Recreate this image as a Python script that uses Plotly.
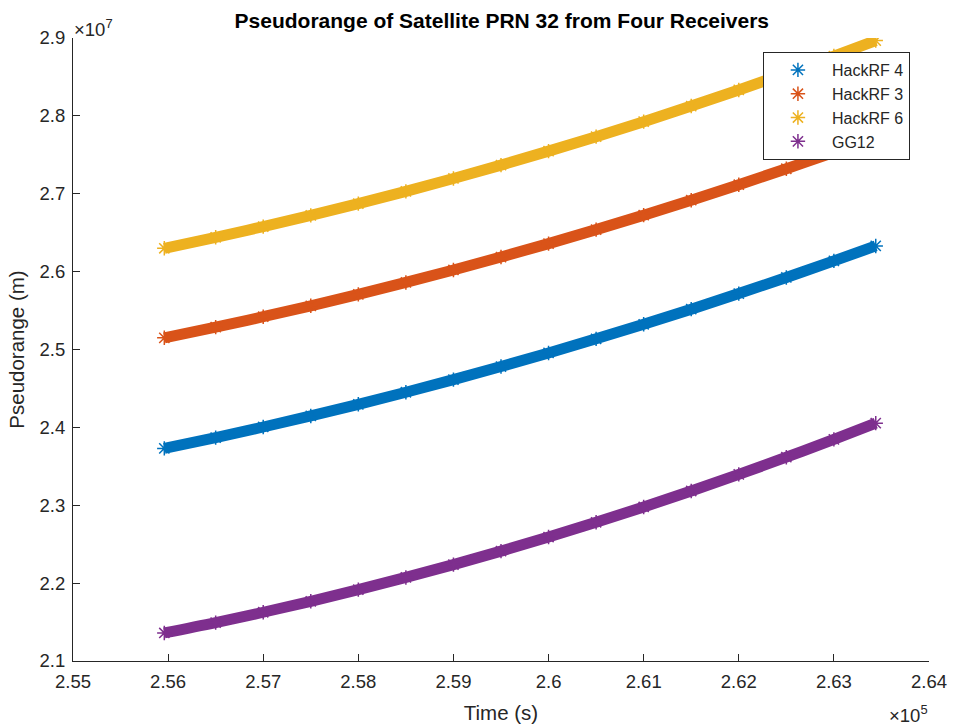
import plotly.graph_objects as go

# Time (s)
time_s = [255960, 256500, 257000, 257500, 258000, 258500, 259000, 259500,
          260000, 260500, 261000, 261500, 262000, 262500, 263000, 263440]

# Pseudorange (x1e7 m)
hackrf4 = [2.373, 2.3869, 2.4005, 2.4147, 2.4296, 2.4451, 2.4613, 2.4781,
           2.4956, 2.5137, 2.5324, 2.5518, 2.5718, 2.5925, 2.6138, 2.633]
hackrf3 = [2.515, 2.5287, 2.5421, 2.5561, 2.5708, 2.5861, 2.6021, 2.6187,
           2.6360, 2.6539, 2.6725, 2.6917, 2.7116, 2.7321, 2.7533, 2.7724]
hackrf6 = [2.630, 2.6441, 2.6578, 2.6722, 2.6873, 2.7031, 2.7196, 2.7368,
           2.7547, 2.7733, 2.7926, 2.8126, 2.8333, 2.8547, 2.8768, 2.8967]
gg12 = [2.136, 2.1493, 2.1626, 2.1767, 2.1916, 2.2073, 2.2238, 2.2411,
        2.2592, 2.2781, 2.2978, 2.3183, 2.3396, 2.3617, 2.3846, 2.4054]

series_names = ["HackRF 4", "HackRF 3", "HackRF 6", "GG12"]
series_vals = [hackrf4, hackrf3, hackrf6, gg12]
colors = ["#0072BD", "#D95319", "#EDB120", "#7E2F8E"]

x_tick_vals = [255000, 256000, 257000, 258000, 259000, 260000, 261000, 262000, 263000, 264000]
x_tick_text = ["2.55", "2.56", "2.57", "2.58", "2.59", "2.6", "2.61", "2.62", "2.63", "2.64"]
y_tick_vals = [2.1e7, 2.2e7, 2.3e7, 2.4e7, 2.5e7, 2.6e7, 2.7e7, 2.8e7, 2.9e7]
y_tick_text = ["2.1", "2.2", "2.3", "2.4", "2.5", "2.6", "2.7", "2.8", "2.9"]

FONT = "Liberation Sans, Arial, Helvetica, sans-serif"
TXT = "#262626"

fig = go.Figure()
for i, (name, vals, col) in enumerate(zip(series_names, series_vals, colors)):
    y = [v * 1e7 for v in vals]
    fig.add_trace(go.Scatter(
        x=time_s, y=y, mode="lines", line=dict(color=col, width=11, shape="spline"),
        showlegend=False, hoverinfo="skip", legendgroup=name))
    fig.add_trace(go.Scatter(
        x=time_s, y=y, mode="markers", name=name, legendgroup=name,
        marker=dict(symbol="asterisk-open", size=12, color=col,
                    line=dict(color=col, width=1.5))))

fig.update_layout(
    width=954, height=728,
    margin=dict(l=73, r=25, t=38, b=67),
    paper_bgcolor="white", plot_bgcolor="white",
    font=dict(family=FONT, color=TXT, size=18.5),
    title=dict(text="<b>Pseudorange of Satellite PRN 32 from Four Receivers</b>",
               x=0.526, xref="container", xanchor="center", y=0.9718, yanchor="middle",
               font=dict(size=21, color="black", family=FONT)),
    xaxis=dict(range=[255000, 264000], tickvals=x_tick_vals, ticktext=x_tick_text,
               ticks="inside", ticklen=7, tickcolor=TXT, showline=True, linecolor=TXT,
               linewidth=1, mirror=False, showgrid=False, zeroline=False, automargin=False,
               tickfont=dict(size=18.5, color=TXT), ticklabelstandoff=4,
               title=dict(text="Time (s)", font=dict(size=20.5, color=TXT), standoff=14)),
    yaxis=dict(range=[2.1e7, 2.9e7], tickvals=y_tick_vals, ticktext=y_tick_text,
               ticks="inside", ticklen=7, tickcolor=TXT, showline=True, linecolor=TXT,
               linewidth=1, mirror=False, showgrid=False, zeroline=False, automargin=False,
               tickfont=dict(size=18.5, color=TXT), ticklabelstandoff=3,
               title=dict(text="Pseudorange (m)", font=dict(size=20.5, color=TXT), standoff=9)),
    legend=dict(x=0.806, y=0.9775, xanchor="left", yanchor="top",
                bgcolor="white", bordercolor="#262626", borderwidth=1,
                font=dict(size=16, color=TXT, family=FONT),
                traceorder="grouped", tracegroupgap=0, itemwidth=58),
    annotations=[
        dict(text="×10<sup>7</sup>", xref="paper", yref="paper", x=0.0, y=1.0,
             xanchor="left", yanchor="bottom", showarrow=False,
             font=dict(size=18.5, color=TXT), xshift=-1, yshift=-4),
        dict(text="×10<sup>5</sup>", xref="paper", yref="paper", x=1.0, y=0.0,
             xanchor="right", yanchor="top", showarrow=False,
             font=dict(size=18.5, color=TXT), yshift=-39, xshift=1),
    ],
)

fig.write_html("out.html", config={"displayModeBar": False},
               post_script="document.body.style.margin='0';")
